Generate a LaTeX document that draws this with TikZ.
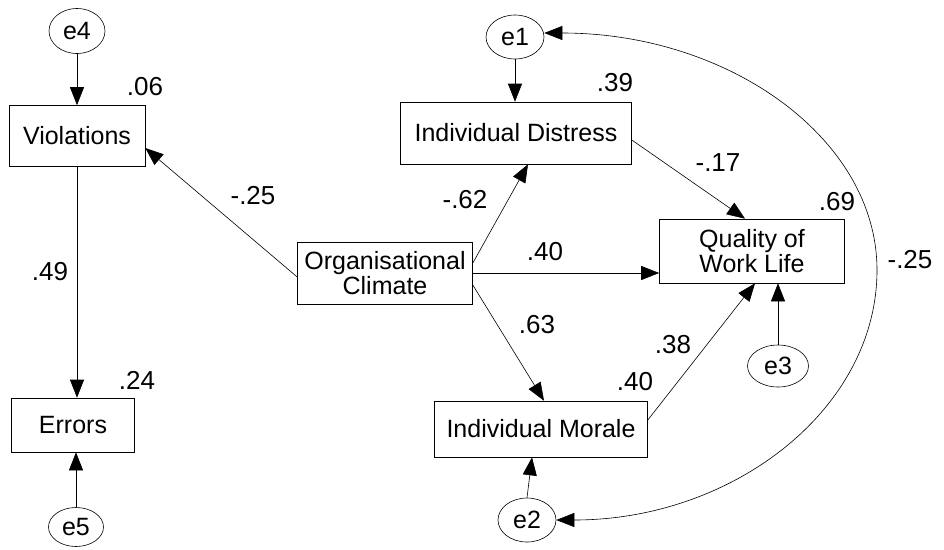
\documentclass[tikz,border=0pt]{standalone}
\usepackage{fontspec}
\setmainfont{Liberation Sans}
\usetikzlibrary{positioning, shapes.geometric, arrows.meta, calc}

\begin{document}
\begin{tikzpicture}[x=1pt, y=-1pt,
	every node/.style={font=\fontsize{25}{23}\selectfont},
	var/.style={draw, rectangle, inner sep=0pt, align=center, line width=0.6pt},
	err/.style={draw, ellipse, inner sep=0pt, minimum width=58pt, minimum height=44pt, line width=0.6pt},
	path/.style={line width=0.6pt, -{Triangle[length=18pt, width=14pt]}},
	coef/.style={inner sep=0pt, font=\fontsize{26}{26}\selectfont}]
	\useasboundingbox (0,0) rectangle (944,549);
	\node[var, minimum width=136pt, minimum height=61pt] (viol) at (77,136) {Violations};
	\node[var, minimum width=123pt, minimum height=54pt] (errs) at (73,425) {Errors};
	\node[var, minimum width=175pt, minimum height=62pt] (org) at (385,273) {Organisational\\Climate};
	\node[var, minimum width=231pt, minimum height=62pt] (dist) at (516,133) {Individual Distress};
	\node[var, minimum width=213pt, minimum height=56pt] (mor) at (541,429) {Individual Morale};
	\node[var, minimum width=185pt, minimum height=64pt] (qwl) at (752,251) {Quality of\\Work Life};
	\node[err, minimum width=56pt, minimum height=45pt] (e4) at (77,31) {e4};
	\node[err, minimum width=55pt, minimum height=39pt] (e5) at (76,527) {e5};
	\node[err] (e1) at (515,37) {e1};
	\node[err, minimum width=61pt, minimum height=42pt] (e3) at (778,366) {e3};
	\node[err] (e2) at (527,520) {e2};
	\coordinate (rt) at (877,270);
	\draw[path] (e4.south) -- (e4.south |- viol.north);
	\draw[path] (viol.south) -- (viol.south |- errs.north);
	\draw[path] (e5.north) -- (e5.north |- errs.south);
	\draw[path] ([yshift=-4pt]org.west) -- ([yshift=-12pt]viol.east);
	\draw[path] ([yshift=10pt]org.east) -- ([xshift=12pt]dist.south);
	\draw[path] (org.east) -- (org.east -| qwl.west);
	\draw[path] ([yshift=-12pt]org.east) -- ([xshift=3pt]mor.north);
	\draw[path] (e1.south) -- (e1.south |- dist.north);
	\draw[path] ([yshift=-7pt]dist.east) -- ([xshift=-7pt]qwl.north);
	\draw[path] ([yshift=9pt]mor.east) -- ([xshift=3pt]qwl.south);
	\draw[path] (e3.north) -- (e3.north |- qwl.south);
	\draw[path] (e2.north) -- ([xshift=-9pt]mor.south);
	\draw[line width=0.6pt, {Triangle[length=18pt, width=14pt]}-{Triangle[length=18pt, width=14pt]}]
		([yshift=4pt]e1.east) .. controls +(185,0) and +(0,-131) .. (rt)
		.. controls +(0,139) and +(177,0) .. (e2.east);
	\node[coef] (r4) at (145,87) {.06};
	\node[coef] (r5) at (137,380) {.24};
	\node[coef] (r1) at (615,83) {.39};
	\node[coef] (r3) at (837,202) {.69};
	\node[coef] (r2) at (635,382) {.40};
	\node[coef] (b1) at (50,272) {.49};
	\node[coef] (b2) at (253,196) {-.25};
	\node[coef] (b3) at (465,200) {-.62};
	\node[coef] (b4) at (545,252) {.40};
	\node[coef] (b5) at (537,325) {.63};
	\node[coef] (b6) at (718,163) {-.17};
	\node[coef] (b7) at (673,345) {.38};
	\node[coef] (c1) at (910,260) {-.25};
\end{tikzpicture}
\end{document}
